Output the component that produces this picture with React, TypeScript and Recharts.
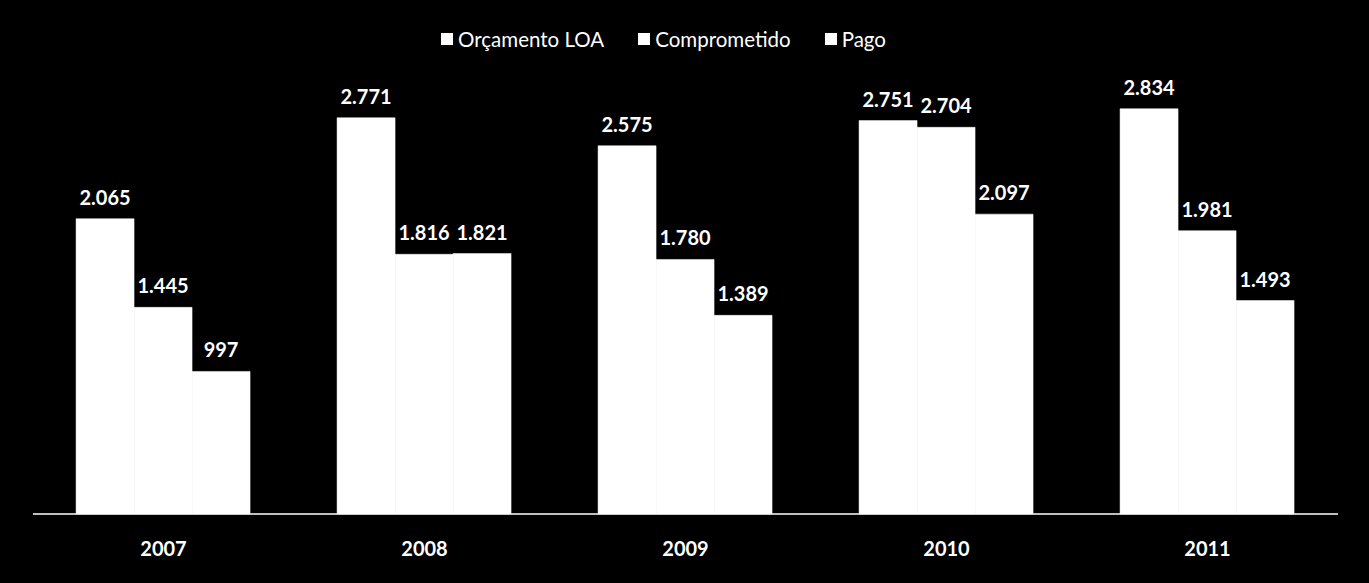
import React from "react";
import { BarChart, Bar, XAxis, YAxis, LabelList, Legend } from "recharts";

const years = ["2007", "2008", "2009", "2010", "2011"];
const orcamentoLOA = [2065, 2771, 2575, 2751, 2834];
const comprometido = [1445, 1816, 1780, 2704, 1981];
const pago = [997, 1821, 1389, 2097, 1493];
const seriesNames = ["Orçamento LOA", "Comprometido", "Pago"];

const data = years.map((y, i) => ({
  year: y,
  loa: orcamentoLOA[i],
  comp: comprometido[i],
  pago: pago[i],
}));

const fmt = (v: any) => {
  const n = Number(v);
  return n.toString().replace(/\B(?=(\d{3})+(?!\d))/g, ".");
};

const FONT = "Lato, 'Open Sans', sans-serif";

const LegendContent = () => (
  <div
    style={{
      display: "flex",
      justifyContent: "center",
      alignItems: "center",
      fontFamily: FONT,
      fontSize: 20.5,
      color: "#fff",
      gap: 34,
      height: 0,
      overflow: "visible",
    }}
  >
    {seriesNames.map((n) => (
      <div key={n} style={{ display: "flex", alignItems: "center" }}>
        <span style={{ display: "inline-block", width: 12, height: 12, background: "#fff", marginRight: 5 }} />
        <span>{n}</span>
      </div>
    ))}
  </div>
);

export default function App() {
  const labelStyle = { fill: "#fff", fontFamily: FONT, fontSize: 20, fontWeight: 700 };
  return (
    <div style={{ position: "absolute", left: 0, top: 0, width: 1369, height: 583, background: "#000" }}>
      <BarChart
        width={1369}
        height={583}
        data={data}
        margin={{ top: 85, right: 31, bottom: 39, left: 33 }}
        barCategoryGap="16.5%"
        barGap={0}
      >
        <XAxis
          dataKey="year"
          axisLine={{ stroke: "#fff", strokeWidth: 1.5 }}
          tickLine={false}
          tick={{ fill: "#fff", fontFamily: FONT, fontSize: 20, fontWeight: 700 }}
          tickMargin={22}
        />
        <YAxis hide domain={[0, 3000]} />
        <Legend
          verticalAlign="top"
          content={<LegendContent />}
          wrapperStyle={{ top: 39, left: -21, width: 1369, height: 0 }}
        />
        {(["loa", "comp", "pago"] as const).map((k, i) => (
          <Bar key={k} dataKey={k} name={seriesNames[i]} fill="#fff" stroke="#fff" strokeWidth={0.5} isAnimationActive={false}>
            <LabelList dataKey={k} position="top" offset={14} formatter={fmt} style={labelStyle} />
          </Bar>
        ))}
      </BarChart>
    </div>
  );
}
